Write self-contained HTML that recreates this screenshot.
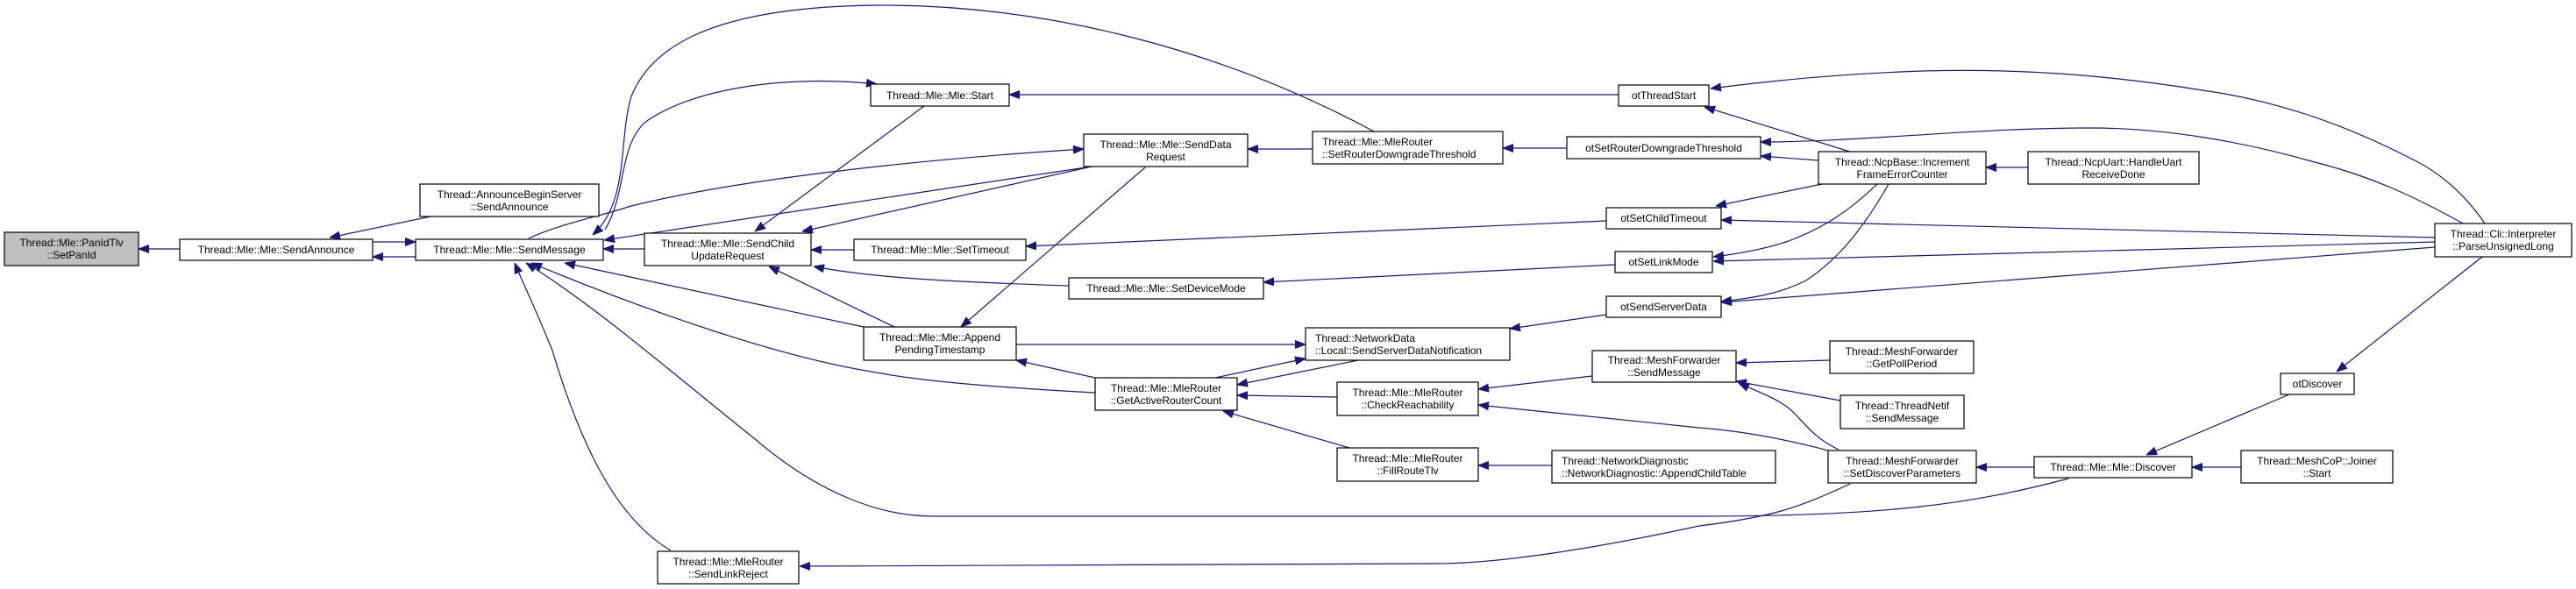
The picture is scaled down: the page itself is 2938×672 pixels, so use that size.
<!DOCTYPE html>
<html><head><meta charset="utf-8"><style>
html,body{margin:0;padding:0;background:#fff;}
svg{display:block;}
text{font-family:"Liberation Sans",Helvetica,Arial,sans-serif;font-size:12px;fill:#000;}
.e{fill:none;stroke:#191970;stroke-width:1.2;}
rect{fill:#fff;stroke:#000;stroke-width:1.2;}
</style></head><body>
<svg width="2938" height="672" viewBox="0 0 2938 672" xmlns="http://www.w3.org/2000/svg">
<defs>
<marker id="a" viewBox="0 0 12 10" refX="12" refY="5" markerWidth="12" markerHeight="10" markerUnits="userSpaceOnUse" orient="auto">
<path d="M0,0.5 L12,5 L0,9.5z" fill="#191970" stroke="#191970"/>
</marker>
</defs>
<g marker-end="url(#a)">
<path class="e" d="M205,284 L158,284"/>
<path class="e" d="M491,247 L376,271"/>
<path class="e" d="M474,293 L425,293"/>
<path class="e" d="M425,276 L474,276"/>
<path class="e" d="M735,284 L688,284"/>
<path class="e" d="M1567,150 C1400,60 1200,5 1000,6 C800,8 740,60 720,110 C705,160 718,230 676,268"/>
<path class="e" d="M690,262 C715,220 705,170 735,140 C790,100 900,85 1000,96"/>
<path class="e" d="M1054,121 L861,264"/>
<path class="e" d="M603,272 C640,255 680,248 720,235 C820,210 1000,185 1236,170"/>
<path class="e" d="M1245,190 L689,274"/>
<path class="e" d="M1245,190 L915,264"/>
<path class="e" d="M974,285 L925,285"/>
<path class="e" d="M1219,326 C1100,322 1000,318 928,304"/>
<path class="e" d="M1022,374 L877,304"/>
<path class="e" d="M985,373 L644,300"/>
<path class="e" d="M1249,448 C1150,443 1050,435 1000,425 C900,410 750,360 606,300"/>
<path class="e" d="M2359,546 C2250,575 2150,589 1938,589 L1064,589 C1000,589 930,560 860,500 C760,420 680,350 600,300"/>
<path class="e" d="M765,628 C700,590 660,500 630,400 C610,350 595,320 587,300"/>
<path class="e" d="M2110,552 C2050,580 2020,590 1938,600 C1800,630 1700,643 1638,643 L912,646"/>
<path class="e" d="M1306,191 L1096,373"/>
<path class="e" d="M1497,170 L1423,170"/>
<path class="e" d="M1846,108 L1151,108"/>
<path class="e" d="M1788,169 L1714,169"/>
<path class="e" d="M1832,252 L1170,281"/>
<path class="e" d="M1842,302 L1441,322"/>
<path class="e" d="M1832,359 L1722,375"/>
<path class="e" d="M1159,393 L1489,393"/>
<path class="e" d="M1386,431 L1489,409"/>
<path class="e" d="M1549,411 L1411,439"/>
<path class="e" d="M1249,431 L1159,411"/>
<path class="e" d="M1525,453 L1411,451"/>
<path class="e" d="M1539,511 L1395,469"/>
<path class="e" d="M1770,531 L1686,531"/>
<path class="e" d="M1816,429 L1686,444"/>
<path class="e" d="M2085,514 C2040,502 1990,492 1938,488 L1686,462"/>
<path class="e" d="M2087,411 L1980,414"/>
<path class="e" d="M2099,457 L1980,435"/>
<path class="e" d="M2097,513 C2070,500 2060,485 2045,470 C2030,455 2000,445 1983,437"/>
<path class="e" d="M2320,533 L2254,533"/>
<path class="e" d="M2556,533 L2500,533"/>
<path class="e" d="M2611,450 L2448,519"/>
<path class="e" d="M2831,293 L2665,424"/>
<path class="e" d="M2834,255 C2810,220 2780,195 2748,180 C2680,145 2600,115 2512,103 C2400,85 2300,78 2193,81 C2100,84 2020,92 1951,101"/>
<path class="e" d="M2110,173 L1944,122"/>
<path class="e" d="M2809,255 C2750,222 2700,200 2640,185 C2560,162 2470,146 2384,146 C2250,146 2120,162 2008,162"/>
<path class="e" d="M2074,183 L2008,178"/>
<path class="e" d="M2313,191 L2265,191"/>
<path class="e" d="M2078,210 L1957,235"/>
<path class="e" d="M2777,271 L1963,251"/>
<path class="e" d="M2141,210 C2110,240 2080,260 2040,275 C2010,285 1980,290 1954,293"/>
<path class="e" d="M2777,276 L1954,298"/>
<path class="e" d="M2154,210 C2120,270 2090,300 2060,320 C2030,335 2000,340 1963,344"/>
<path class="e" d="M2777,282 L1963,345"/>
</g>
<rect x="5" y="265" width="153" height="38" style="fill:#bfbfbf"/>
<text x="81.5" y="281" text-anchor="middle">Thread::Mle::PanIdTlv</text>
<text x="81.5" y="295" text-anchor="middle">::SetPanId</text>

<rect x="205" y="273" width="220" height="24"/>
<text x="315" y="289" text-anchor="middle">Thread::Mle::Mle::SendAnnounce</text>

<rect x="479" y="210" width="204" height="37"/>
<text x="581" y="226" text-anchor="middle">Thread::AnnounceBeginServer</text>
<text x="581" y="240" text-anchor="middle">::SendAnnounce</text>

<rect x="474" y="273" width="214" height="24"/>
<text x="581" y="289" text-anchor="middle">Thread::Mle::Mle::SendMessage</text>

<rect x="735" y="266" width="190" height="37"/>
<text x="830" y="282" text-anchor="middle">Thread::Mle::Mle::SendChild</text>
<text x="830" y="296" text-anchor="middle">UpdateRequest</text>

<rect x="750" y="629" width="161" height="37"/>
<text x="830.5" y="645" text-anchor="middle">Thread::Mle::MleRouter</text>
<text x="830.5" y="659" text-anchor="middle">::SendLinkReject</text>

<rect x="993" y="96" width="158" height="25"/>
<text x="1072" y="113" text-anchor="middle">Thread::Mle::Mle::Start</text>

<rect x="974" y="273" width="196" height="24"/>
<text x="1072" y="289" text-anchor="middle">Thread::Mle::Mle::SetTimeout</text>

<rect x="985" y="373" width="174" height="38"/>
<text x="1072" y="389" text-anchor="middle">Thread::Mle::Mle::Append</text>
<text x="1072" y="403" text-anchor="middle">PendingTimestamp</text>

<rect x="1236" y="153" width="187" height="37"/>
<text x="1329.5" y="169" text-anchor="middle">Thread::Mle::Mle::SendData</text>
<text x="1329.5" y="183" text-anchor="middle">Request</text>

<rect x="1497" y="150" width="217" height="37"/>
<text x="1508" y="166">Thread::Mle::MleRouter</text>
<text x="1508" y="180">::SetRouterDowngradeThreshold</text>

<rect x="1219" y="317" width="222" height="24"/>
<text x="1330" y="333" text-anchor="middle">Thread::Mle::Mle::SetDeviceMode</text>

<rect x="1489" y="374" width="233" height="37"/>
<text x="1500" y="390">Thread::NetworkData</text>
<text x="1500" y="404">::Local::SendServerDataNotification</text>

<rect x="1249" y="431" width="162" height="37"/>
<text x="1330" y="447" text-anchor="middle">Thread::Mle::MleRouter</text>
<text x="1330" y="461" text-anchor="middle">::GetActiveRouterCount</text>

<rect x="1525" y="436" width="161" height="38"/>
<text x="1605.5" y="452" text-anchor="middle">Thread::Mle::MleRouter</text>
<text x="1605.5" y="466" text-anchor="middle">::CheckReachability</text>

<rect x="1525" y="511" width="161" height="38"/>
<text x="1605.5" y="527" text-anchor="middle">Thread::Mle::MleRouter</text>
<text x="1605.5" y="541" text-anchor="middle">::FillRouteTlv</text>

<rect x="1770" y="514" width="255" height="37"/>
<text x="1781" y="530">Thread::NetworkDiagnostic</text>
<text x="1781" y="544">::NetworkDiagnostic::AppendChildTable</text>

<rect x="1846" y="97" width="103" height="24"/>
<text x="1897.5" y="113" text-anchor="middle">otThreadStart</text>

<rect x="1787" y="156" width="221" height="25"/>
<text x="1897.5" y="173" text-anchor="middle">otSetRouterDowngradeThreshold</text>

<rect x="1832" y="237" width="131" height="24"/>
<text x="1897.5" y="253" text-anchor="middle">otSetChildTimeout</text>

<rect x="1842" y="287" width="111" height="24"/>
<text x="1897.5" y="303" text-anchor="middle">otSetLinkMode</text>

<rect x="1832" y="338" width="131" height="24"/>
<text x="1897.5" y="354" text-anchor="middle">otSendServerData</text>

<rect x="1816" y="400" width="164" height="36"/>
<text x="1898" y="415" text-anchor="middle">Thread::MeshForwarder</text>
<text x="1898" y="429" text-anchor="middle">::SendMessage</text>

<rect x="2074" y="173" width="191" height="37"/>
<text x="2169.5" y="189" text-anchor="middle">Thread::NcpBase::Increment</text>
<text x="2169.5" y="203" text-anchor="middle">FrameErrorCounter</text>

<rect x="2313" y="173" width="195" height="37"/>
<text x="2410.5" y="189" text-anchor="middle">Thread::NcpUart::HandleUart</text>
<text x="2410.5" y="203" text-anchor="middle">ReceiveDone</text>

<rect x="2777" y="255" width="156" height="38"/>
<text x="2855" y="271" text-anchor="middle">Thread::Cli::Interpreter</text>
<text x="2855" y="285" text-anchor="middle">::ParseUnsignedLong</text>

<rect x="2087" y="389" width="164" height="37"/>
<text x="2169" y="405" text-anchor="middle">Thread::MeshForwarder</text>
<text x="2169" y="419" text-anchor="middle">::GetPollPeriod</text>

<rect x="2099" y="451" width="141" height="38"/>
<text x="2169.5" y="467" text-anchor="middle">Thread::ThreadNetif</text>
<text x="2169.5" y="481" text-anchor="middle">::SendMessage</text>

<rect x="2085" y="514" width="169" height="37"/>
<text x="2169.5" y="530" text-anchor="middle">Thread::MeshForwarder</text>
<text x="2169.5" y="544" text-anchor="middle">::SetDiscoverParameters</text>

<rect x="2320" y="521" width="180" height="24"/>
<text x="2410" y="537" text-anchor="middle">Thread::Mle::Mle::Discover</text>

<rect x="2556" y="514" width="173" height="37"/>
<text x="2642.5" y="530" text-anchor="middle">Thread::MeshCoP::Joiner</text>
<text x="2642.5" y="544" text-anchor="middle">::Start</text>

<rect x="2601" y="426" width="84" height="24"/>
<text x="2643" y="442" text-anchor="middle">otDiscover</text>
</svg>
</body></html>
